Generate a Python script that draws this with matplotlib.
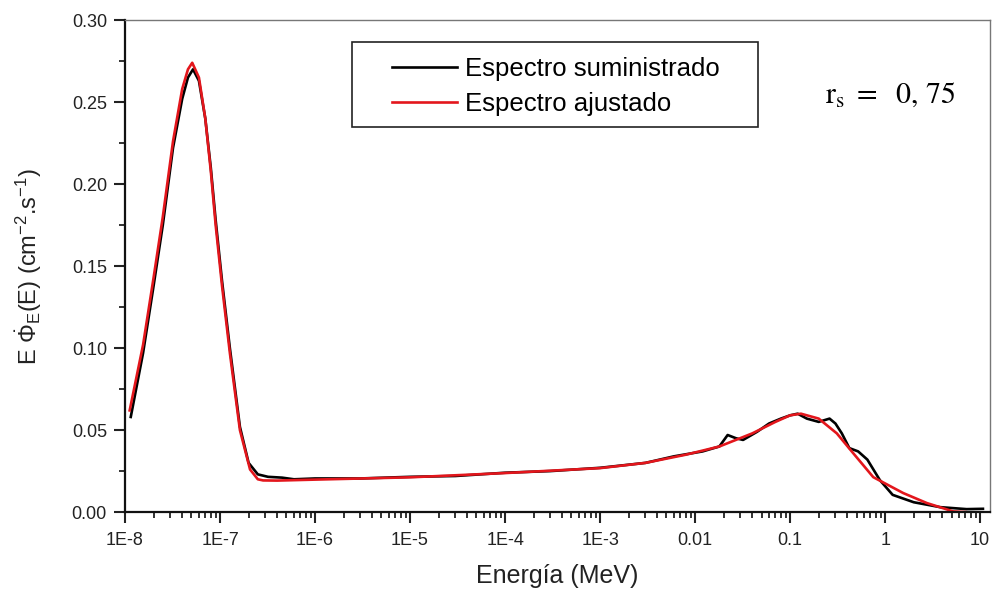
import matplotlib
matplotlib.use("Agg")
import matplotlib.pyplot as plt
from matplotlib.patches import Rectangle
from matplotlib.ticker import FixedLocator, FixedFormatter, LogLocator, MultipleLocator

plt.rcParams["font.family"] = ["Liberation Sans", "DejaVu Sans"]
plt.rcParams["mathtext.fontset"] = "custom"
plt.rcParams["mathtext.rm"] = "Liberation Sans"
plt.rcParams["mathtext.it"] = "Liberation Sans"

# espectro suministrado (black)
energy_sup = [1.15e-8, 1.55e-8, 2.0e-8, 2.5e-8, 3.2e-8, 4.0e-8, 4.6e-8, 5.2e-8, 6.0e-8,
              7.0e-8, 8.0e-8, 9.0e-8, 1.05e-7, 1.27e-7, 1.62e-7, 2.0e-7, 2.5e-7, 3.2e-7,
              4.5e-7, 6.0e-7, 1e-6, 3e-6, 1e-5, 3e-5, 1e-4, 3e-4, 1e-3, 3e-3, 6e-3,
              0.012, 0.018, 0.022, 0.027, 0.032, 0.045, 0.06, 0.08, 0.1, 0.12, 0.15,
              0.2, 0.26, 0.3, 0.35, 0.42, 0.52, 0.65, 0.88, 1.2, 2.0, 3.8, 7.2, 10.7]
flux_sup = [0.058, 0.097, 0.138, 0.175, 0.222, 0.252, 0.265, 0.270, 0.263,
            0.240, 0.210, 0.178, 0.141, 0.100, 0.052, 0.030, 0.023, 0.0215,
            0.021, 0.020, 0.0205, 0.0205, 0.0215, 0.022, 0.024, 0.025, 0.027, 0.030, 0.034,
            0.037, 0.040, 0.047, 0.045, 0.044, 0.049, 0.054, 0.057, 0.059, 0.060, 0.057,
            0.055, 0.057, 0.054, 0.048, 0.039, 0.037, 0.032, 0.0195, 0.0105, 0.006, 0.003, 0.0018, 0.002]

# espectro ajustado (red)
energy_fit = [1.12e-8, 1.55e-8, 2.0e-8, 2.5e-8, 3.2e-8, 4.0e-8, 4.6e-8, 5.1e-8, 6.0e-8,
              7.0e-8, 8.0e-8, 9.0e-8, 1.05e-7, 1.27e-7, 1.62e-7, 2.07e-7, 2.5e-7, 2.84e-7,
              4e-7, 1e-6, 1e-5, 1e-4, 1e-3, 3e-3, 8e-3, 0.018, 0.04, 0.07, 0.1, 0.13,
              0.2, 0.31, 0.46, 0.75, 1.55, 2.75, 5.2, 7.0]
flux_fit = [0.062, 0.102, 0.143, 0.180, 0.226, 0.258, 0.270, 0.274, 0.265,
            0.240, 0.208, 0.175, 0.138, 0.097, 0.050, 0.026, 0.020, 0.0193,
            0.0192, 0.0198, 0.0212, 0.0238, 0.0268, 0.030, 0.035, 0.040, 0.048, 0.055, 0.059, 0.060,
            0.057, 0.048, 0.036, 0.0213, 0.0116, 0.0055, 0.0004, 0.0]

x_ticks = [1e-8, 1e-7, 1e-6, 1e-5, 1e-4, 1e-3, 1e-2, 1e-1, 1, 10]
x_tick_labels = ["1E-8", "1E-7", "1E-6", "1E-5", "1E-4", "1E-3", "0.01", "0.1", "1", "10"]


def main() -> None:
    fig = plt.figure(figsize=(9.92, 5.92), dpi=100)
    ax = fig.add_axes([0.126, 0.135, 0.872, 0.831])

    ax.plot(energy_sup, flux_sup, color="black", lw=1.9, label="Espectro suministrado")
    ax.plot(energy_fit, flux_fit, color="#e3161c", lw=1.9, label="Espectro ajustado")

    ax.set_xscale("log")
    ax.set_xlim(1e-8, 12.7)
    ax.set_ylim(0.0, 0.30)
    ax.xaxis.set_major_locator(FixedLocator(x_ticks))
    ax.xaxis.set_major_formatter(FixedFormatter(x_tick_labels))
    ax.xaxis.set_minor_locator(LogLocator(base=10, subs=range(2, 10), numticks=30))
    ax.yaxis.set_major_locator(MultipleLocator(0.05))
    ax.yaxis.set_minor_locator(MultipleLocator(0.025))
    ax.yaxis.set_major_formatter(plt.FormatStrFormatter("%.2f"))

    ax.tick_params(which="major", direction="out", length=8, width=1.5, labelsize=13,
                   top=False, right=False, colors="#222222", pad=5)
    ax.tick_params(which="minor", direction="out", length=4.5, width=1.3,
                   top=False, right=False, colors="#222222")
    ax.tick_params(axis="x", which="minor", labelbottom=False)
    ax.tick_params(axis="x", which="major", pad=6)
    for side in ("left", "bottom"):
        ax.spines[side].set_linewidth(1.6)
        ax.spines[side].set_color("#111111")
    for side in ("top", "right"):
        ax.spines[side].set_linewidth(1.0)
        ax.spines[side].set_color("#777777")

    ax.set_xlabel("Energía (MeV)", fontsize=18, color="#222222", labelpad=11)
    ax.set_ylabel(r"E $\dot{\Phi}_{E}$(E) (cm$^{-2}$.s$^{-1}$)", fontsize=17,
                  color="#222222", labelpad=20)

    # legend frame drawn separately so the side padding can be wider than the top one
    ax.add_patch(Rectangle((0.2624, 0.7825), 0.4694, 0.1728, transform=ax.transAxes,
                           fill=False, ec="#222222", lw=1.2, zorder=5))
    ax.legend(loc="upper left", bbox_to_anchor=(0.3087, 0.926), fontsize=18.5,
              frameon=False, handlelength=2.53, borderpad=0, labelspacing=0.43,
              handletextpad=0.31, borderaxespad=0)

    ax.text(0.809, 0.833, r"$\mathrm{r_s}\ =\ \ 0,\,75$", transform=ax.transAxes,
            fontsize=21.5, math_fontfamily="stix", ha="left", va="baseline")

    fig.savefig("out.png", dpi=100)
    plt.close(fig)


if __name__ == "__main__":
    main()
